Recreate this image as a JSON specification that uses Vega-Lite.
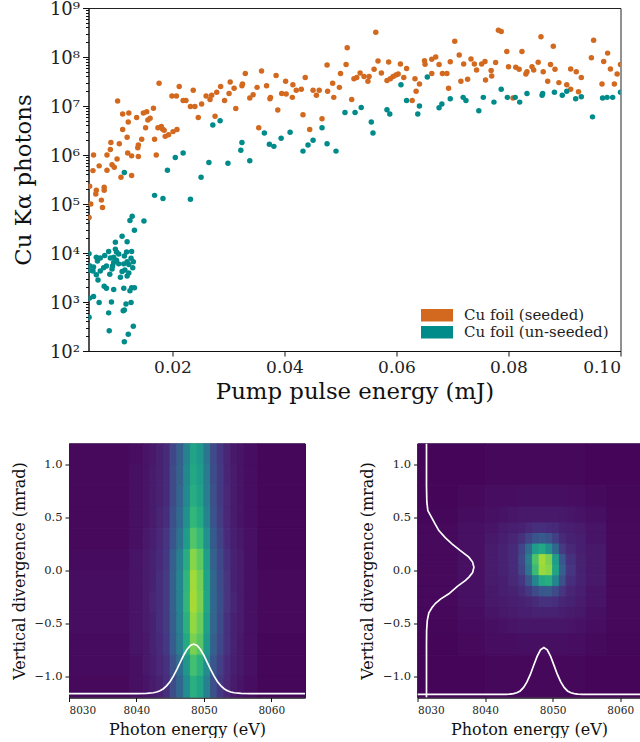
{"$schema":"https://vega.github.io/schema/vega-lite/v6.json","padding":{"left":10,"top":0,"right":0,"bottom":0},"background":"white","config":{"font":"DejaVu Serif","view":{"stroke":"#222"},"axis":{"grid":false,"domainColor":"#111","tickColor":"#111","labelColor":"#222","titleColor":"#111","labelFont":"DejaVu Serif","titleFont":"DejaVu Serif","titleFontWeight":"normal"}},"datasets":{"seeded":[{"x":0.0052,"y":230000},{"x":0.0059,"y":1000000},{"x":0.0058,"y":480000},{"x":0.0064,"y":190000},{"x":0.0063,"y":160000},{"x":0.0069,"y":600000},{"x":0.0073,"y":120000},{"x":0.0078,"y":220000},{"x":0.0078,"y":190000},{"x":0.0083,"y":1000000},{"x":0.0083,"y":490000},{"x":0.0089,"y":1300000},{"x":0.009,"y":1800000},{"x":0.0092,"y":630000},{"x":0.0096,"y":560000},{"x":0.0101,"y":830000},{"x":0.0102,"y":12600000},{"x":0.0105,"y":1700000},{"x":0.0108,"y":350000},{"x":0.0111,"y":6900000},{"x":0.0111,"y":3300000},{"x":0.0119,"y":2300000},{"x":0.012,"y":1100000},{"x":0.0122,"y":7200000},{"x":0.0121,"y":4700000},{"x":0.0127,"y":960000},{"x":0.0127,"y":380000},{"x":0.0136,"y":5800000},{"x":0.0138,"y":1400000},{"x":0.0139,"y":1600000},{"x":0.0139,"y":930000},{"x":0.0145,"y":2100000},{"x":0.0148,"y":7200000},{"x":0.0154,"y":7600000},{"x":0.0152,"y":3600000},{"x":0.0156,"y":5200000},{"x":0.016,"y":5600000},{"x":0.0166,"y":9000000},{"x":0.0168,"y":2100000},{"x":0.0171,"y":1000000},{"x":0.0176,"y":29000000},{"x":0.0174,"y":3600000},{"x":0.018,"y":3800000},{"x":0.0182,"y":3400000},{"x":0.0185,"y":3200000},{"x":0.0187,"y":2400000},{"x":0.0193,"y":2600000},{"x":0.0199,"y":16000000},{"x":0.0201,"y":3000000},{"x":0.0207,"y":16000000},{"x":0.0208,"y":3300000},{"x":0.0212,"y":25000000},{"x":0.0219,"y":13000000},{"x":0.0224,"y":13000000},{"x":0.0232,"y":9800000},{"x":0.0237,"y":21000000},{"x":0.024,"y":9800000},{"x":0.0246,"y":5800000},{"x":0.0252,"y":11000000},{"x":0.026,"y":16000000},{"x":0.0267,"y":13500000},{"x":0.027,"y":16500000},{"x":0.0276,"y":6200000},{"x":0.0279,"y":19000000},{"x":0.0286,"y":25000000},{"x":0.0293,"y":13000000},{"x":0.0301,"y":18000000},{"x":0.0303,"y":31000000},{"x":0.031,"y":23000000},{"x":0.0313,"y":8900000},{"x":0.0324,"y":26000000},{"x":0.0325,"y":28000000},{"x":0.033,"y":46000000},{"x":0.0338,"y":14500000},{"x":0.0344,"y":17000000},{"x":0.0351,"y":24000000},{"x":0.0354,"y":3600000},{"x":0.0359,"y":52000000},{"x":0.0368,"y":26000000},{"x":0.0374,"y":14000000},{"x":0.0375,"y":15000000},{"x":0.0385,"y":42000000},{"x":0.0388,"y":8300000},{"x":0.0395,"y":18000000},{"x":0.0402,"y":32000000},{"x":0.0403,"y":17500000},{"x":0.0414,"y":15000000},{"x":0.0415,"y":27000000},{"x":0.0421,"y":21000000},{"x":0.043,"y":22000000},{"x":0.0433,"y":6600000},{"x":0.0437,"y":38000000},{"x":0.0445,"y":3300000},{"x":0.0451,"y":21000000},{"x":0.0457,"y":16500000},{"x":0.0462,"y":21000000},{"x":0.0467,"y":5500000},{"x":0.0476,"y":69000000},{"x":0.0477,"y":20000000},{"x":0.0486,"y":29000000},{"x":0.0488,"y":15000000},{"x":0.0498,"y":24000000},{"x":0.05,"y":46000000},{"x":0.051,"y":70000000},{"x":0.0512,"y":155000000},{"x":0.052,"y":13500000},{"x":0.0524,"y":36000000},{"x":0.0529,"y":38000000},{"x":0.0535,"y":47000000},{"x":0.0542,"y":40000000},{"x":0.0551,"y":40000000},{"x":0.0549,"y":32000000},{"x":0.056,"y":56000000},{"x":0.0563,"y":320000000},{"x":0.0567,"y":83000000},{"x":0.0573,"y":47000000},{"x":0.0583,"y":33000000},{"x":0.0586,"y":79000000},{"x":0.0589,"y":36000000},{"x":0.0594,"y":40000000},{"x":0.0599,"y":43000000},{"x":0.0603,"y":45000000},{"x":0.0607,"y":72000000},{"x":0.0613,"y":38000000},{"x":0.0618,"y":58000000},{"x":0.0628,"y":13000000},{"x":0.0633,"y":36000000},{"x":0.0635,"y":20000000},{"x":0.0641,"y":28000000},{"x":0.065,"y":84000000},{"x":0.0651,"y":71000000},{"x":0.0663,"y":90000000},{"x":0.0663,"y":46000000},{"x":0.067,"y":100000000},{"x":0.0676,"y":70000000},{"x":0.0682,"y":46000000},{"x":0.069,"y":46000000},{"x":0.0693,"y":23000000},{"x":0.0696,"y":80000000},{"x":0.0704,"y":210000000},{"x":0.0712,"y":110000000},{"x":0.0715,"y":32000000},{"x":0.072,"y":72000000},{"x":0.0727,"y":35000000},{"x":0.0733,"y":91000000},{"x":0.0739,"y":72000000},{"x":0.0743,"y":54000000},{"x":0.0752,"y":72000000},{"x":0.0758,"y":81000000},{"x":0.0759,"y":34000000},{"x":0.0769,"y":53000000},{"x":0.077,"y":41000000},{"x":0.0777,"y":77000000},{"x":0.0782,"y":350000000},{"x":0.0787,"y":330000000},{"x":0.0797,"y":130000000},{"x":0.08,"y":63000000},{"x":0.0808,"y":14500000},{"x":0.0813,"y":62000000},{"x":0.0819,"y":56000000},{"x":0.0824,"y":130000000},{"x":0.0831,"y":45000000},{"x":0.0833,"y":50000000},{"x":0.0842,"y":63000000},{"x":0.0845,"y":54000000},{"x":0.0853,"y":78000000},{"x":0.0858,"y":260000000},{"x":0.0862,"y":50000000},{"x":0.087,"y":32000000},{"x":0.0875,"y":70000000},{"x":0.088,"y":165000000},{"x":0.0883,"y":56000000},{"x":0.089,"y":30000000},{"x":0.0904,"y":27000000},{"x":0.0911,"y":57000000},{"x":0.0911,"y":22000000},{"x":0.0921,"y":50000000},{"x":0.0925,"y":19500000},{"x":0.093,"y":38000000},{"x":0.0948,"y":97000000},{"x":0.0952,"y":220000000},{"x":0.0967,"y":28000000},{"x":0.097,"y":81000000},{"x":0.0977,"y":120000000},{"x":0.0982,"y":57000000},{"x":0.0989,"y":28000000},{"x":0.0994,"y":45000000},{"x":0.1,"y":70000000},{"x":0.0054,"y":100000},{"x":0.0075,"y":85000},{"x":0.0051,"y":53000}],"unseeded":[{"x":0.0114,"y":440000},{"x":0.0191,"y":490000},{"x":0.0205,"y":890000},{"x":0.0219,"y":1100000},{"x":0.0251,"y":350000},{"x":0.0265,"y":700000},{"x":0.0272,"y":4100000},{"x":0.0285,"y":5000000},{"x":0.0299,"y":680000},{"x":0.0322,"y":1250000},{"x":0.0324,"y":1800000},{"x":0.0338,"y":760000},{"x":0.0364,"y":2800000},{"x":0.0373,"y":1660000},{"x":0.0381,"y":1500000},{"x":0.0394,"y":2200000},{"x":0.041,"y":2900000},{"x":0.0433,"y":1200000},{"x":0.0442,"y":1600000},{"x":0.0451,"y":2000000},{"x":0.0467,"y":3600000},{"x":0.0476,"y":1700000},{"x":0.0168,"y":150000},{"x":0.0183,"y":130000},{"x":0.0232,"y":125000},{"x":0.0492,"y":1200000},{"x":0.0508,"y":7400000},{"x":0.0526,"y":7400000},{"x":0.0537,"y":9300000},{"x":0.0555,"y":4700000},{"x":0.0558,"y":2800000},{"x":0.0583,"y":8400000},{"x":0.0588,"y":6900000},{"x":0.0608,"y":27000000},{"x":0.0618,"y":13000000},{"x":0.0638,"y":6900000},{"x":0.0641,"y":10000000},{"x":0.0655,"y":39000000},{"x":0.0676,"y":9200000},{"x":0.0681,"y":11000000},{"x":0.0696,"y":14000000},{"x":0.0719,"y":15000000},{"x":0.0724,"y":13000000},{"x":0.0747,"y":8000000},{"x":0.0755,"y":15000000},{"x":0.0774,"y":12000000},{"x":0.0787,"y":22000000},{"x":0.0798,"y":15000000},{"x":0.0812,"y":15000000},{"x":0.082,"y":12000000},{"x":0.0833,"y":18000000},{"x":0.086,"y":16500000},{"x":0.0861,"y":18000000},{"x":0.0882,"y":19000000},{"x":0.0896,"y":16500000},{"x":0.0904,"y":20000000},{"x":0.092,"y":14000000},{"x":0.093,"y":15500000},{"x":0.095,"y":6000000},{"x":0.0968,"y":14500000},{"x":0.0976,"y":15000000},{"x":0.0986,"y":15000000},{"x":0.1,"y":19000000},{"x":0.0128,"y":56000},{"x":0.0124,"y":46000},{"x":0.0149,"y":45000},{"x":0.0132,"y":29000},{"x":0.011,"y":22000},{"x":0.0098,"y":16500},{"x":0.0119,"y":17000},{"x":0.0051,"y":9700},{"x":0.0064,"y":8200},{"x":0.0066,"y":6900},{"x":0.0079,"y":8900},{"x":0.0086,"y":10700},{"x":0.0098,"y":12000},{"x":0.01,"y":10500},{"x":0.0104,"y":9500},{"x":0.0095,"y":8200},{"x":0.0089,"y":7900},{"x":0.0071,"y":7900},{"x":0.0118,"y":10500},{"x":0.0127,"y":10700},{"x":0.0114,"y":8700},{"x":0.0126,"y":7800},{"x":0.013,"y":6600},{"x":0.0119,"y":6600},{"x":0.0113,"y":6000},{"x":0.0122,"y":5800},{"x":0.01,"y":7100},{"x":0.0095,"y":6400},{"x":0.0104,"y":6000},{"x":0.0093,"y":5400},{"x":0.0082,"y":5400},{"x":0.0077,"y":5000},{"x":0.0071,"y":4300},{"x":0.0052,"y":5500},{"x":0.0059,"y":5200},{"x":0.0058,"y":4300},{"x":0.0051,"y":4400},{"x":0.0064,"y":3600},{"x":0.0067,"y":2800},{"x":0.0088,"y":3700},{"x":0.0092,"y":4700},{"x":0.011,"y":4200},{"x":0.0115,"y":4500},{"x":0.0107,"y":3200},{"x":0.0119,"y":3400},{"x":0.0122,"y":3900},{"x":0.0129,"y":5000},{"x":0.0078,"y":2100},{"x":0.0082,"y":1900},{"x":0.0095,"y":1800},{"x":0.0113,"y":1900},{"x":0.0124,"y":1700},{"x":0.0127,"y":1950},{"x":0.0132,"y":1950},{"x":0.0059,"y":1300},{"x":0.0052,"y":1200},{"x":0.0069,"y":980},{"x":0.0091,"y":1000},{"x":0.0126,"y":980},{"x":0.0117,"y":910},{"x":0.0114,"y":690},{"x":0.0112,"y":660},{"x":0.0086,"y":600},{"x":0.0051,"y":490},{"x":0.0087,"y":260},{"x":0.013,"y":320},{"x":0.0121,"y":220},{"x":0.0114,"y":155}],"left":[{"a":8030,"b":8039,"c":1,"d":1.2,"v":0.02},{"a":8039,"b":8041,"c":1,"d":1.2,"v":0.03},{"a":8041,"b":8042,"c":1,"d":1.2,"v":0.05},{"a":8042,"b":8043,"c":1,"d":1.2,"v":0.06},{"a":8043,"b":8044,"c":1,"d":1.2,"v":0.09},{"a":8044,"b":8045,"c":1,"d":1.2,"v":0.12},{"a":8045,"b":8046,"c":1,"d":1.2,"v":0.21},{"a":8046,"b":8047,"c":1,"d":1.2,"v":0.3},{"a":8047,"b":8048,"c":1,"d":1.2,"v":0.44},{"a":8048,"b":8049,"c":1,"d":1.2,"v":0.58},{"a":8049,"b":8050,"c":1,"d":1.2,"v":0.53},{"a":8050,"b":8051,"c":1,"d":1.2,"v":0.39},{"a":8051,"b":8052,"c":1,"d":1.2,"v":0.22},{"a":8052,"b":8053,"c":1,"d":1.2,"v":0.15},{"a":8053,"b":8054,"c":1,"d":1.2,"v":0.1},{"a":8054,"b":8055,"c":1,"d":1.2,"v":0.06},{"a":8055,"b":8056,"c":1,"d":1.2,"v":0.05},{"a":8056,"b":8058,"c":1,"d":1.2,"v":0.03},{"a":8058,"b":8065,"c":1,"d":1.2,"v":0.015},{"a":8030,"b":8039,"c":0.8,"d":1,"v":0.02},{"a":8039,"b":8041,"c":0.8,"d":1,"v":0.04},{"a":8041,"b":8042,"c":0.8,"d":1,"v":0.05},{"a":8042,"b":8043,"c":0.8,"d":1,"v":0.07},{"a":8043,"b":8044,"c":0.8,"d":1,"v":0.09},{"a":8044,"b":8045,"c":0.8,"d":1,"v":0.12},{"a":8045,"b":8046,"c":0.8,"d":1,"v":0.22},{"a":8046,"b":8047,"c":0.8,"d":1,"v":0.31},{"a":8047,"b":8048,"c":0.8,"d":1,"v":0.46},{"a":8048,"b":8049,"c":0.8,"d":1,"v":0.6},{"a":8049,"b":8050,"c":0.8,"d":1,"v":0.55},{"a":8050,"b":8051,"c":0.8,"d":1,"v":0.41},{"a":8051,"b":8052,"c":0.8,"d":1,"v":0.23},{"a":8052,"b":8053,"c":0.8,"d":1,"v":0.16},{"a":8053,"b":8054,"c":0.8,"d":1,"v":0.1},{"a":8054,"b":8055,"c":0.8,"d":1,"v":0.07},{"a":8055,"b":8056,"c":0.8,"d":1,"v":0.05},{"a":8056,"b":8058,"c":0.8,"d":1,"v":0.03},{"a":8058,"b":8065,"c":0.8,"d":1,"v":0.015},{"a":8030,"b":8039,"c":0.6,"d":0.8,"v":0.02},{"a":8039,"b":8041,"c":0.6,"d":0.8,"v":0.04},{"a":8041,"b":8042,"c":0.6,"d":0.8,"v":0.05},{"a":8042,"b":8043,"c":0.6,"d":0.8,"v":0.07},{"a":8043,"b":8044,"c":0.6,"d":0.8,"v":0.09},{"a":8044,"b":8045,"c":0.6,"d":0.8,"v":0.12},{"a":8045,"b":8046,"c":0.6,"d":0.8,"v":0.22},{"a":8046,"b":8047,"c":0.6,"d":0.8,"v":0.32},{"a":8047,"b":8048,"c":0.6,"d":0.8,"v":0.47},{"a":8048,"b":8049,"c":0.6,"d":0.8,"v":0.62},{"a":8049,"b":8050,"c":0.6,"d":0.8,"v":0.57},{"a":8050,"b":8051,"c":0.6,"d":0.8,"v":0.42},{"a":8051,"b":8052,"c":0.6,"d":0.8,"v":0.24},{"a":8052,"b":8053,"c":0.6,"d":0.8,"v":0.16},{"a":8053,"b":8054,"c":0.6,"d":0.8,"v":0.11},{"a":8054,"b":8055,"c":0.6,"d":0.8,"v":0.07},{"a":8055,"b":8056,"c":0.6,"d":0.8,"v":0.05},{"a":8056,"b":8058,"c":0.6,"d":0.8,"v":0.03},{"a":8058,"b":8065,"c":0.6,"d":0.8,"v":0.015},{"a":8030,"b":8039,"c":0.4,"d":0.6,"v":0.02},{"a":8039,"b":8041,"c":0.4,"d":0.6,"v":0.04},{"a":8041,"b":8042,"c":0.4,"d":0.6,"v":0.05},{"a":8042,"b":8043,"c":0.4,"d":0.6,"v":0.07},{"a":8043,"b":8044,"c":0.4,"d":0.6,"v":0.1},{"a":8044,"b":8045,"c":0.4,"d":0.6,"v":0.13},{"a":8045,"b":8046,"c":0.4,"d":0.6,"v":0.24},{"a":8046,"b":8047,"c":0.4,"d":0.6,"v":0.34},{"a":8047,"b":8048,"c":0.4,"d":0.6,"v":0.5},{"a":8048,"b":8049,"c":0.4,"d":0.6,"v":0.66},{"a":8049,"b":8050,"c":0.4,"d":0.6,"v":0.61},{"a":8050,"b":8051,"c":0.4,"d":0.6,"v":0.45},{"a":8051,"b":8052,"c":0.4,"d":0.6,"v":0.25},{"a":8052,"b":8053,"c":0.4,"d":0.6,"v":0.17},{"a":8053,"b":8054,"c":0.4,"d":0.6,"v":0.11},{"a":8054,"b":8055,"c":0.4,"d":0.6,"v":0.07},{"a":8055,"b":8056,"c":0.4,"d":0.6,"v":0.05},{"a":8056,"b":8058,"c":0.4,"d":0.6,"v":0.03},{"a":8058,"b":8065,"c":0.4,"d":0.6,"v":0.015},{"a":8030,"b":8039,"c":0.2,"d":0.4,"v":0.02},{"a":8039,"b":8041,"c":0.2,"d":0.4,"v":0.04},{"a":8041,"b":8042,"c":0.2,"d":0.4,"v":0.06},{"a":8042,"b":8043,"c":0.2,"d":0.4,"v":0.08},{"a":8043,"b":8044,"c":0.2,"d":0.4,"v":0.11},{"a":8044,"b":8045,"c":0.2,"d":0.4,"v":0.15},{"a":8045,"b":8046,"c":0.2,"d":0.4,"v":0.26},{"a":8046,"b":8047,"c":0.2,"d":0.4,"v":0.38},{"a":8047,"b":8048,"c":0.2,"d":0.4,"v":0.55},{"a":8048,"b":8049,"c":0.2,"d":0.4,"v":0.73},{"a":8049,"b":8050,"c":0.2,"d":0.4,"v":0.67},{"a":8050,"b":8051,"c":0.2,"d":0.4,"v":0.5},{"a":8051,"b":8052,"c":0.2,"d":0.4,"v":0.28},{"a":8052,"b":8053,"c":0.2,"d":0.4,"v":0.19},{"a":8053,"b":8054,"c":0.2,"d":0.4,"v":0.12},{"a":8054,"b":8055,"c":0.2,"d":0.4,"v":0.08},{"a":8055,"b":8056,"c":0.2,"d":0.4,"v":0.06},{"a":8056,"b":8058,"c":0.2,"d":0.4,"v":0.04},{"a":8058,"b":8065,"c":0.2,"d":0.4,"v":0.015},{"a":8030,"b":8039,"c":0,"d":0.2,"v":0.025},{"a":8039,"b":8041,"c":0,"d":0.2,"v":0.05},{"a":8041,"b":8042,"c":0,"d":0.2,"v":0.07},{"a":8042,"b":8043,"c":0,"d":0.2,"v":0.09},{"a":8043,"b":8044,"c":0,"d":0.2,"v":0.12},{"a":8044,"b":8045,"c":0,"d":0.2,"v":0.16},{"a":8045,"b":8046,"c":0,"d":0.2,"v":0.3},{"a":8046,"b":8047,"c":0,"d":0.2,"v":0.43},{"a":8047,"b":8048,"c":0,"d":0.2,"v":0.62},{"a":8048,"b":8049,"c":0,"d":0.2,"v":0.82},{"a":8049,"b":8050,"c":0,"d":0.2,"v":0.75},{"a":8050,"b":8051,"c":0,"d":0.2,"v":0.56},{"a":8051,"b":8052,"c":0,"d":0.2,"v":0.31},{"a":8052,"b":8053,"c":0,"d":0.2,"v":0.21},{"a":8053,"b":8054,"c":0,"d":0.2,"v":0.14},{"a":8054,"b":8055,"c":0,"d":0.2,"v":0.09},{"a":8055,"b":8056,"c":0,"d":0.2,"v":0.07},{"a":8056,"b":8058,"c":0,"d":0.2,"v":0.04},{"a":8058,"b":8065,"c":0,"d":0.2,"v":0.015},{"a":8030,"b":8039,"c":-0.2,"d":0,"v":0.03},{"a":8039,"b":8041,"c":-0.2,"d":0,"v":0.05},{"a":8041,"b":8042,"c":-0.2,"d":0,"v":0.07},{"a":8042,"b":8043,"c":-0.2,"d":0,"v":0.09},{"a":8043,"b":8044,"c":-0.2,"d":0,"v":0.13},{"a":8044,"b":8045,"c":-0.2,"d":0,"v":0.17},{"a":8045,"b":8046,"c":-0.2,"d":0,"v":0.31},{"a":8046,"b":8047,"c":-0.2,"d":0,"v":0.45},{"a":8047,"b":8048,"c":-0.2,"d":0,"v":0.65},{"a":8048,"b":8049,"c":-0.2,"d":0,"v":0.86},{"a":8049,"b":8050,"c":-0.2,"d":0,"v":0.79},{"a":8050,"b":8051,"c":-0.2,"d":0,"v":0.58},{"a":8051,"b":8052,"c":-0.2,"d":0,"v":0.33},{"a":8052,"b":8053,"c":-0.2,"d":0,"v":0.22},{"a":8053,"b":8054,"c":-0.2,"d":0,"v":0.15},{"a":8054,"b":8055,"c":-0.2,"d":0,"v":0.09},{"a":8055,"b":8056,"c":-0.2,"d":0,"v":0.07},{"a":8056,"b":8058,"c":-0.2,"d":0,"v":0.04},{"a":8058,"b":8065,"c":-0.2,"d":0,"v":0.02},{"a":8030,"b":8039,"c":-0.4,"d":-0.2,"v":0.03},{"a":8039,"b":8041,"c":-0.4,"d":-0.2,"v":0.05},{"a":8041,"b":8042,"c":-0.4,"d":-0.2,"v":0.07},{"a":8042,"b":8043,"c":-0.4,"d":-0.2,"v":0.1},{"a":8043,"b":8044,"c":-0.4,"d":-0.2,"v":0.13},{"a":8044,"b":8045,"c":-0.4,"d":-0.2,"v":0.17},{"a":8045,"b":8046,"c":-0.4,"d":-0.2,"v":0.31},{"a":8046,"b":8047,"c":-0.4,"d":-0.2,"v":0.45},{"a":8047,"b":8048,"c":-0.4,"d":-0.2,"v":0.66},{"a":8048,"b":8049,"c":-0.4,"d":-0.2,"v":0.87},{"a":8049,"b":8050,"c":-0.4,"d":-0.2,"v":0.8},{"a":8050,"b":8051,"c":-0.4,"d":-0.2,"v":0.59},{"a":8051,"b":8052,"c":-0.4,"d":-0.2,"v":0.33},{"a":8052,"b":8053,"c":-0.4,"d":-0.2,"v":0.23},{"a":8053,"b":8054,"c":-0.4,"d":-0.2,"v":0.15},{"a":8054,"b":8055,"c":-0.4,"d":-0.2,"v":0.1},{"a":8055,"b":8056,"c":-0.4,"d":-0.2,"v":0.07},{"a":8056,"b":8058,"c":-0.4,"d":-0.2,"v":0.04},{"a":8058,"b":8065,"c":-0.4,"d":-0.2,"v":0.02},{"a":8030,"b":8039,"c":-0.6,"d":-0.4,"v":0.03},{"a":8039,"b":8041,"c":-0.6,"d":-0.4,"v":0.05},{"a":8041,"b":8042,"c":-0.6,"d":-0.4,"v":0.07},{"a":8042,"b":8043,"c":-0.6,"d":-0.4,"v":0.09},{"a":8043,"b":8044,"c":-0.6,"d":-0.4,"v":0.13},{"a":8044,"b":8045,"c":-0.6,"d":-0.4,"v":0.17},{"a":8045,"b":8046,"c":-0.6,"d":-0.4,"v":0.3},{"a":8046,"b":8047,"c":-0.6,"d":-0.4,"v":0.44},{"a":8047,"b":8048,"c":-0.6,"d":-0.4,"v":0.64},{"a":8048,"b":8049,"c":-0.6,"d":-0.4,"v":0.84},{"a":8049,"b":8050,"c":-0.6,"d":-0.4,"v":0.77},{"a":8050,"b":8051,"c":-0.6,"d":-0.4,"v":0.57},{"a":8051,"b":8052,"c":-0.6,"d":-0.4,"v":0.32},{"a":8052,"b":8053,"c":-0.6,"d":-0.4,"v":0.22},{"a":8053,"b":8054,"c":-0.6,"d":-0.4,"v":0.14},{"a":8054,"b":8055,"c":-0.6,"d":-0.4,"v":0.09},{"a":8055,"b":8056,"c":-0.6,"d":-0.4,"v":0.07},{"a":8056,"b":8058,"c":-0.6,"d":-0.4,"v":0.04},{"a":8058,"b":8065,"c":-0.6,"d":-0.4,"v":0.02},{"a":8030,"b":8039,"c":-0.8,"d":-0.6,"v":0.025},{"a":8039,"b":8041,"c":-0.8,"d":-0.6,"v":0.05},{"a":8041,"b":8042,"c":-0.8,"d":-0.6,"v":0.06},{"a":8042,"b":8043,"c":-0.8,"d":-0.6,"v":0.09},{"a":8043,"b":8044,"c":-0.8,"d":-0.6,"v":0.12},{"a":8044,"b":8045,"c":-0.8,"d":-0.6,"v":0.16},{"a":8045,"b":8046,"c":-0.8,"d":-0.6,"v":0.29},{"a":8046,"b":8047,"c":-0.8,"d":-0.6,"v":0.42},{"a":8047,"b":8048,"c":-0.8,"d":-0.6,"v":0.61},{"a":8048,"b":8049,"c":-0.8,"d":-0.6,"v":0.8},{"a":8049,"b":8050,"c":-0.8,"d":-0.6,"v":0.74},{"a":8050,"b":8051,"c":-0.8,"d":-0.6,"v":0.54},{"a":8051,"b":8052,"c":-0.8,"d":-0.6,"v":0.3},{"a":8052,"b":8053,"c":-0.8,"d":-0.6,"v":0.21},{"a":8053,"b":8054,"c":-0.8,"d":-0.6,"v":0.14},{"a":8054,"b":8055,"c":-0.8,"d":-0.6,"v":0.09},{"a":8055,"b":8056,"c":-0.8,"d":-0.6,"v":0.06},{"a":8056,"b":8058,"c":-0.8,"d":-0.6,"v":0.04},{"a":8058,"b":8065,"c":-0.8,"d":-0.6,"v":0.015},{"a":8030,"b":8039,"c":-1,"d":-0.8,"v":0.025},{"a":8039,"b":8041,"c":-1,"d":-0.8,"v":0.04},{"a":8041,"b":8042,"c":-1,"d":-0.8,"v":0.06},{"a":8042,"b":8043,"c":-1,"d":-0.8,"v":0.08},{"a":8043,"b":8044,"c":-1,"d":-0.8,"v":0.11},{"a":8044,"b":8045,"c":-1,"d":-0.8,"v":0.14},{"a":8045,"b":8046,"c":-1,"d":-0.8,"v":0.25},{"a":8046,"b":8047,"c":-1,"d":-0.8,"v":0.36},{"a":8047,"b":8048,"c":-1,"d":-0.8,"v":0.53},{"a":8048,"b":8049,"c":-1,"d":-0.8,"v":0.7},{"a":8049,"b":8050,"c":-1,"d":-0.8,"v":0.64},{"a":8050,"b":8051,"c":-1,"d":-0.8,"v":0.48},{"a":8051,"b":8052,"c":-1,"d":-0.8,"v":0.27},{"a":8052,"b":8053,"c":-1,"d":-0.8,"v":0.18},{"a":8053,"b":8054,"c":-1,"d":-0.8,"v":0.12},{"a":8054,"b":8055,"c":-1,"d":-0.8,"v":0.08},{"a":8055,"b":8056,"c":-1,"d":-0.8,"v":0.06},{"a":8056,"b":8058,"c":-1,"d":-0.8,"v":0.04},{"a":8058,"b":8065,"c":-1,"d":-0.8,"v":0.015},{"a":8030,"b":8039,"c":-1.2,"d":-1,"v":0.02},{"a":8039,"b":8041,"c":-1.2,"d":-1,"v":0.04},{"a":8041,"b":8042,"c":-1.2,"d":-1,"v":0.05},{"a":8042,"b":8043,"c":-1.2,"d":-1,"v":0.07},{"a":8043,"b":8044,"c":-1.2,"d":-1,"v":0.09},{"a":8044,"b":8045,"c":-1.2,"d":-1,"v":0.13},{"a":8045,"b":8046,"c":-1.2,"d":-1,"v":0.23},{"a":8046,"b":8047,"c":-1.2,"d":-1,"v":0.33},{"a":8047,"b":8048,"c":-1.2,"d":-1,"v":0.48},{"a":8048,"b":8049,"c":-1.2,"d":-1,"v":0.63},{"a":8049,"b":8050,"c":-1.2,"d":-1,"v":0.58},{"a":8050,"b":8051,"c":-1.2,"d":-1,"v":0.43},{"a":8051,"b":8052,"c":-1.2,"d":-1,"v":0.24},{"a":8052,"b":8053,"c":-1.2,"d":-1,"v":0.16},{"a":8053,"b":8054,"c":-1.2,"d":-1,"v":0.11},{"a":8054,"b":8055,"c":-1.2,"d":-1,"v":0.07},{"a":8055,"b":8056,"c":-1.2,"d":-1,"v":0.05},{"a":8056,"b":8058,"c":-1.2,"d":-1,"v":0.03},{"a":8058,"b":8065,"c":-1.2,"d":-1,"v":0.015}],"right":[{"a":8030,"b":8040,"c":0.8,"d":1.2,"v":0.012},{"a":8040,"b":8055,"c":0.8,"d":1.2,"v":0.018},{"a":8055,"b":8063,"c":0.8,"d":1.2,"v":0.013},{"a":8030,"b":8036,"c":0.6,"d":0.8,"v":0.013},{"a":8036,"b":8040,"c":0.6,"d":0.8,"v":0.02},{"a":8040,"b":8045,"c":0.6,"d":0.8,"v":0.03},{"a":8045,"b":8052,"c":0.6,"d":0.8,"v":0.037},{"a":8052,"b":8055,"c":0.6,"d":0.8,"v":0.03},{"a":8055,"b":8058,"c":0.6,"d":0.8,"v":0.023},{"a":8058,"b":8063,"c":0.6,"d":0.8,"v":0.015},{"a":8030,"b":8036,"c":0.45,"d":0.6,"v":0.015},{"a":8036,"b":8040,"c":0.45,"d":0.6,"v":0.027},{"a":8040,"b":8042,"c":0.45,"d":0.6,"v":0.04},{"a":8042,"b":8043.5,"c":0.45,"d":0.6,"v":0.047},{"a":8043.5,"b":8045,"c":0.45,"d":0.6,"v":0.055},{"a":8045,"b":8046,"c":0.45,"d":0.6,"v":0.06},{"a":8046,"b":8051,"c":0.45,"d":0.6,"v":0.065},{"a":8051,"b":8052,"c":0.45,"d":0.6,"v":0.06},{"a":8052,"b":8053.5,"c":0.45,"d":0.6,"v":0.055},{"a":8053.5,"b":8055,"c":0.45,"d":0.6,"v":0.047},{"a":8055,"b":8058,"c":0.45,"d":0.6,"v":0.035},{"a":8058,"b":8063,"c":0.45,"d":0.6,"v":0.018},{"a":8030,"b":8036,"c":0.35,"d":0.45,"v":0.02},{"a":8036,"b":8040,"c":0.35,"d":0.45,"v":0.04},{"a":8040,"b":8042,"c":0.35,"d":0.45,"v":0.05},{"a":8042,"b":8043.5,"c":0.35,"d":0.45,"v":0.07},{"a":8043.5,"b":8045,"c":0.35,"d":0.45,"v":0.08},{"a":8045,"b":8046,"c":0.35,"d":0.45,"v":0.09},{"a":8046,"b":8047,"c":0.35,"d":0.45,"v":0.11},{"a":8047,"b":8048,"c":0.35,"d":0.45,"v":0.13},{"a":8048,"b":8049,"c":0.35,"d":0.45,"v":0.13},{"a":8049,"b":8050,"c":0.35,"d":0.45,"v":0.12},{"a":8050,"b":8051,"c":0.35,"d":0.45,"v":0.11},{"a":8051,"b":8052,"c":0.35,"d":0.45,"v":0.09},{"a":8052,"b":8053.5,"c":0.35,"d":0.45,"v":0.08},{"a":8053.5,"b":8055,"c":0.35,"d":0.45,"v":0.07},{"a":8055,"b":8058,"c":0.35,"d":0.45,"v":0.05},{"a":8058,"b":8063,"c":0.35,"d":0.45,"v":0.02},{"a":8030,"b":8036,"c":0.25,"d":0.35,"v":0.02},{"a":8036,"b":8040,"c":0.25,"d":0.35,"v":0.04},{"a":8040,"b":8042,"c":0.25,"d":0.35,"v":0.06},{"a":8042,"b":8043.5,"c":0.25,"d":0.35,"v":0.08},{"a":8043.5,"b":8045,"c":0.25,"d":0.35,"v":0.1},{"a":8045,"b":8046,"c":0.25,"d":0.35,"v":0.14},{"a":8046,"b":8047,"c":0.25,"d":0.35,"v":0.2},{"a":8047,"b":8048,"c":0.25,"d":0.35,"v":0.26},{"a":8048,"b":8049,"c":0.25,"d":0.35,"v":0.28},{"a":8049,"b":8050,"c":0.25,"d":0.35,"v":0.25},{"a":8050,"b":8051,"c":0.25,"d":0.35,"v":0.18},{"a":8051,"b":8052,"c":0.25,"d":0.35,"v":0.12},{"a":8052,"b":8053.5,"c":0.25,"d":0.35,"v":0.09},{"a":8053.5,"b":8055,"c":0.25,"d":0.35,"v":0.08},{"a":8055,"b":8058,"c":0.25,"d":0.35,"v":0.05},{"a":8058,"b":8063,"c":0.25,"d":0.35,"v":0.02},{"a":8030,"b":8036,"c":0.15,"d":0.25,"v":0.02},{"a":8036,"b":8040,"c":0.15,"d":0.25,"v":0.04},{"a":8040,"b":8042,"c":0.15,"d":0.25,"v":0.07},{"a":8042,"b":8043.5,"c":0.15,"d":0.25,"v":0.09},{"a":8043.5,"b":8045,"c":0.15,"d":0.25,"v":0.12},{"a":8045,"b":8046,"c":0.15,"d":0.25,"v":0.2},{"a":8046,"b":8047,"c":0.15,"d":0.25,"v":0.35},{"a":8047,"b":8048,"c":0.15,"d":0.25,"v":0.55},{"a":8048,"b":8049,"c":0.15,"d":0.25,"v":0.6},{"a":8049,"b":8050,"c":0.15,"d":0.25,"v":0.5},{"a":8050,"b":8051,"c":0.15,"d":0.25,"v":0.33},{"a":8051,"b":8052,"c":0.15,"d":0.25,"v":0.17},{"a":8052,"b":8053.5,"c":0.15,"d":0.25,"v":0.11},{"a":8053.5,"b":8055,"c":0.15,"d":0.25,"v":0.08},{"a":8055,"b":8058,"c":0.15,"d":0.25,"v":0.06},{"a":8058,"b":8063,"c":0.15,"d":0.25,"v":0.02},{"a":8030,"b":8036,"c":0.05,"d":0.15,"v":0.02},{"a":8036,"b":8040,"c":0.05,"d":0.15,"v":0.04},{"a":8040,"b":8042,"c":0.05,"d":0.15,"v":0.07},{"a":8042,"b":8043.5,"c":0.05,"d":0.15,"v":0.09},{"a":8043.5,"b":8045,"c":0.05,"d":0.15,"v":0.12},{"a":8045,"b":8046,"c":0.05,"d":0.15,"v":0.22},{"a":8046,"b":8047,"c":0.05,"d":0.15,"v":0.42},{"a":8047,"b":8048,"c":0.05,"d":0.15,"v":0.72},{"a":8048,"b":8049,"c":0.05,"d":0.15,"v":0.86},{"a":8049,"b":8050,"c":0.05,"d":0.15,"v":0.8},{"a":8050,"b":8051,"c":0.05,"d":0.15,"v":0.55},{"a":8051,"b":8052,"c":0.05,"d":0.15,"v":0.27},{"a":8052,"b":8053.5,"c":0.05,"d":0.15,"v":0.14},{"a":8053.5,"b":8055,"c":0.05,"d":0.15,"v":0.09},{"a":8055,"b":8058,"c":0.05,"d":0.15,"v":0.06},{"a":8058,"b":8063,"c":0.05,"d":0.15,"v":0.02},{"a":8030,"b":8036,"c":-0.05,"d":0.05,"v":0.02},{"a":8036,"b":8040,"c":-0.05,"d":0.05,"v":0.04},{"a":8040,"b":8042,"c":-0.05,"d":0.05,"v":0.07},{"a":8042,"b":8043.5,"c":-0.05,"d":0.05,"v":0.09},{"a":8043.5,"b":8045,"c":-0.05,"d":0.05,"v":0.12},{"a":8045,"b":8046,"c":-0.05,"d":0.05,"v":0.2},{"a":8046,"b":8047,"c":-0.05,"d":0.05,"v":0.38},{"a":8047,"b":8048,"c":-0.05,"d":0.05,"v":0.68},{"a":8048,"b":8049,"c":-0.05,"d":0.05,"v":0.85},{"a":8049,"b":8050,"c":-0.05,"d":0.05,"v":0.82},{"a":8050,"b":8051,"c":-0.05,"d":0.05,"v":0.58},{"a":8051,"b":8052,"c":-0.05,"d":0.05,"v":0.3},{"a":8052,"b":8053.5,"c":-0.05,"d":0.05,"v":0.15},{"a":8053.5,"b":8055,"c":-0.05,"d":0.05,"v":0.09},{"a":8055,"b":8058,"c":-0.05,"d":0.05,"v":0.06},{"a":8058,"b":8063,"c":-0.05,"d":0.05,"v":0.02},{"a":8030,"b":8036,"c":-0.15,"d":-0.05,"v":0.02},{"a":8036,"b":8040,"c":-0.15,"d":-0.05,"v":0.04},{"a":8040,"b":8042,"c":-0.15,"d":-0.05,"v":0.07},{"a":8042,"b":8043.5,"c":-0.15,"d":-0.05,"v":0.08},{"a":8043.5,"b":8045,"c":-0.15,"d":-0.05,"v":0.11},{"a":8045,"b":8046,"c":-0.15,"d":-0.05,"v":0.15},{"a":8046,"b":8047,"c":-0.15,"d":-0.05,"v":0.27},{"a":8047,"b":8048,"c":-0.15,"d":-0.05,"v":0.45},{"a":8048,"b":8049,"c":-0.15,"d":-0.05,"v":0.6},{"a":8049,"b":8050,"c":-0.15,"d":-0.05,"v":0.62},{"a":8050,"b":8051,"c":-0.15,"d":-0.05,"v":0.45},{"a":8051,"b":8052,"c":-0.15,"d":-0.05,"v":0.24},{"a":8052,"b":8053.5,"c":-0.15,"d":-0.05,"v":0.13},{"a":8053.5,"b":8055,"c":-0.15,"d":-0.05,"v":0.09},{"a":8055,"b":8058,"c":-0.15,"d":-0.05,"v":0.06},{"a":8058,"b":8063,"c":-0.15,"d":-0.05,"v":0.02},{"a":8030,"b":8036,"c":-0.25,"d":-0.15,"v":0.02},{"a":8036,"b":8040,"c":-0.25,"d":-0.15,"v":0.04},{"a":8040,"b":8042,"c":-0.25,"d":-0.15,"v":0.06},{"a":8042,"b":8043.5,"c":-0.25,"d":-0.15,"v":0.08},{"a":8043.5,"b":8045,"c":-0.25,"d":-0.15,"v":0.09},{"a":8045,"b":8046,"c":-0.25,"d":-0.15,"v":0.12},{"a":8046,"b":8047,"c":-0.25,"d":-0.15,"v":0.16},{"a":8047,"b":8048,"c":-0.25,"d":-0.15,"v":0.22},{"a":8048,"b":8049,"c":-0.25,"d":-0.15,"v":0.27},{"a":8049,"b":8050,"c":-0.25,"d":-0.15,"v":0.28},{"a":8050,"b":8051,"c":-0.25,"d":-0.15,"v":0.22},{"a":8051,"b":8052,"c":-0.25,"d":-0.15,"v":0.15},{"a":8052,"b":8053.5,"c":-0.25,"d":-0.15,"v":0.1},{"a":8053.5,"b":8055,"c":-0.25,"d":-0.15,"v":0.08},{"a":8055,"b":8058,"c":-0.25,"d":-0.15,"v":0.05},{"a":8058,"b":8063,"c":-0.25,"d":-0.15,"v":0.02},{"a":8030,"b":8036,"c":-0.35,"d":-0.25,"v":0.02},{"a":8036,"b":8040,"c":-0.35,"d":-0.25,"v":0.04},{"a":8040,"b":8042,"c":-0.35,"d":-0.25,"v":0.06},{"a":8042,"b":8043.5,"c":-0.35,"d":-0.25,"v":0.07},{"a":8043.5,"b":8045,"c":-0.35,"d":-0.25,"v":0.08},{"a":8045,"b":8046,"c":-0.35,"d":-0.25,"v":0.09},{"a":8046,"b":8047,"c":-0.35,"d":-0.25,"v":0.1},{"a":8047,"b":8048,"c":-0.35,"d":-0.25,"v":0.12},{"a":8048,"b":8050,"c":-0.35,"d":-0.25,"v":0.14},{"a":8050,"b":8051,"c":-0.35,"d":-0.25,"v":0.13},{"a":8051,"b":8052,"c":-0.35,"d":-0.25,"v":0.1},{"a":8052,"b":8053.5,"c":-0.35,"d":-0.25,"v":0.09},{"a":8053.5,"b":8055,"c":-0.35,"d":-0.25,"v":0.07},{"a":8055,"b":8058,"c":-0.35,"d":-0.25,"v":0.05},{"a":8058,"b":8063,"c":-0.35,"d":-0.25,"v":0.02},{"a":8030,"b":8036,"c":-0.45,"d":-0.35,"v":0.018},{"a":8036,"b":8040,"c":-0.45,"d":-0.35,"v":0.03},{"a":8040,"b":8042,"c":-0.45,"d":-0.35,"v":0.05},{"a":8042,"b":8043.5,"c":-0.45,"d":-0.35,"v":0.06},{"a":8043.5,"b":8045,"c":-0.45,"d":-0.35,"v":0.07},{"a":8045,"b":8047,"c":-0.45,"d":-0.35,"v":0.08},{"a":8047,"b":8051,"c":-0.45,"d":-0.35,"v":0.09},{"a":8051,"b":8052,"c":-0.45,"d":-0.35,"v":0.08},{"a":8052,"b":8053.5,"c":-0.45,"d":-0.35,"v":0.07},{"a":8053.5,"b":8055,"c":-0.45,"d":-0.35,"v":0.06},{"a":8055,"b":8058,"c":-0.45,"d":-0.35,"v":0.04},{"a":8058,"b":8063,"c":-0.45,"d":-0.35,"v":0.02},{"a":8030,"b":8036,"c":-0.6,"d":-0.45,"v":0.015},{"a":8036,"b":8040,"c":-0.6,"d":-0.45,"v":0.026},{"a":8040,"b":8042,"c":-0.6,"d":-0.45,"v":0.037},{"a":8042,"b":8043.5,"c":-0.6,"d":-0.45,"v":0.044},{"a":8043.5,"b":8045,"c":-0.6,"d":-0.45,"v":0.05},{"a":8045,"b":8052,"c":-0.6,"d":-0.45,"v":0.056},{"a":8052,"b":8053.5,"c":-0.6,"d":-0.45,"v":0.05},{"a":8053.5,"b":8055,"c":-0.6,"d":-0.45,"v":0.044},{"a":8055,"b":8058,"c":-0.6,"d":-0.45,"v":0.032},{"a":8058,"b":8063,"c":-0.6,"d":-0.45,"v":0.017},{"a":8030,"b":8036,"c":-0.8,"d":-0.6,"v":0.013},{"a":8036,"b":8040,"c":-0.8,"d":-0.6,"v":0.02},{"a":8040,"b":8045,"c":-0.8,"d":-0.6,"v":0.03},{"a":8045,"b":8052,"c":-0.8,"d":-0.6,"v":0.037},{"a":8052,"b":8055,"c":-0.8,"d":-0.6,"v":0.03},{"a":8055,"b":8058,"c":-0.8,"d":-0.6,"v":0.023},{"a":8058,"b":8063,"c":-0.8,"d":-0.6,"v":0.015},{"a":8030,"b":8040,"c":-1.2,"d":-0.8,"v":0.012},{"a":8040,"b":8055,"c":-1.2,"d":-0.8,"v":0.018},{"a":8055,"b":8063,"c":-1.2,"d":-0.8,"v":0.013}],"lineL":[{"x":8030,"y":-1.163},{"x":8040,"y":-1.163},{"x":8041.5,"y":-1.161},{"x":8042.5,"y":-1.155},{"x":8043,"y":-1.148},{"x":8043.5,"y":-1.136},{"x":8044,"y":-1.117},{"x":8044.5,"y":-1.088},{"x":8045,"y":-1.048},{"x":8045.5,"y":-0.996},{"x":8046,"y":-0.934},{"x":8046.5,"y":-0.867},{"x":8047,"y":-0.801},{"x":8047.5,"y":-0.746},{"x":8048,"y":-0.708},{"x":8048.5,"y":-0.695},{"x":8049,"y":-0.708},{"x":8049.5,"y":-0.746},{"x":8050,"y":-0.801},{"x":8050.5,"y":-0.867},{"x":8051,"y":-0.934},{"x":8051.5,"y":-0.996},{"x":8052,"y":-1.048},{"x":8052.5,"y":-1.088},{"x":8053,"y":-1.117},{"x":8053.5,"y":-1.136},{"x":8054,"y":-1.148},{"x":8054.5,"y":-1.155},{"x":8055.5,"y":-1.161},{"x":8057,"y":-1.163},{"x":8065,"y":-1.163}],"lineR":[{"x":8030,"y":-1.17},{"x":8043,"y":-1.17},{"x":8043.7,"y":-1.168},{"x":8044.2,"y":-1.164},{"x":8044.7,"y":-1.155},{"x":8045.2,"y":-1.138},{"x":8045.7,"y":-1.105},{"x":8046.2,"y":-1.053},{"x":8046.7,"y":-0.982},{"x":8047.2,"y":-0.896},{"x":8047.7,"y":-0.812},{"x":8048.2,"y":-0.75},{"x":8048.7,"y":-0.727},{"x":8049.2,"y":-0.75},{"x":8049.7,"y":-0.812},{"x":8050.2,"y":-0.896},{"x":8050.7,"y":-0.982},{"x":8051.2,"y":-1.053},{"x":8051.7,"y":-1.105},{"x":8052.2,"y":-1.138},{"x":8052.7,"y":-1.155},{"x":8053.2,"y":-1.164},{"x":8053.7,"y":-1.168},{"x":8054.5,"y":-1.17},{"x":8063,"y":-1.17}],"lineV":[{"x":8031.33,"y":-1.2},{"x":8031.33,"y":-0.7},{"x":8031.35,"y":-0.566},{"x":8031.45,"y":-0.47},{"x":8031.68,"y":-0.4},{"x":8032.15,"y":-0.35},{"x":8032.67,"y":-0.31},{"x":8033.4,"y":-0.27},{"x":8034.64,"y":-0.22},{"x":8035.9,"y":-0.15},{"x":8037.11,"y":-0.094},{"x":8037.65,"y":-0.06},{"x":8038.15,"y":-0.02},{"x":8038.35,"y":0.03},{"x":8038.15,"y":0.08},{"x":8037.6,"y":0.126},{"x":8036.3,"y":0.19},{"x":8035.14,"y":0.25},{"x":8034.1,"y":0.31},{"x":8033.16,"y":0.377},{"x":8032.6,"y":0.44},{"x":8032.1,"y":0.5},{"x":8031.53,"y":0.566},{"x":8031.38,"y":0.65},{"x":8031.33,"y":0.8},{"x":8031.33,"y":1.2}]},"vconcat":[{"bounds":"flush","spacing":18.5,"hconcat":[{"width":1,"height":343,"view":{"stroke":null},"data":{"values":[]},"mark":"point"},{"width":532,"height":343,"layer":[{"data":{"name":"seeded"},"mark":{"type":"circle","size":30,"opacity":1,"clip":true},"encoding":{"x":{"field":"x","type":"quantitative","scale":{"domain":[0.005,0.1],"nice":false,"zero":false},"axis":{"values":[0.02,0.04,0.06,0.08,0.1],"format":".2f","title":"Pump pulse energy (mJ)","labelFontSize":17,"titleFontSize":22.8,"tickSize":5,"labelPadding":3,"titlePadding":5}},"y":{"field":"y","type":"quantitative","scale":{"type":"log","domain":[100,1000000000],"nice":false},"axis":{"values":[100,200,300,400,500,600,700,800,900,1000,2000,3000,4000,5000,6000,7000,8000,9000,10000,20000,30000,40000,50000,60000,70000,80000,90000,100000,200000,300000,400000,500000,600000,700000,800000,900000,1000000,2000000,3000000,4000000,5000000,6000000,7000000,8000000,9000000,10000000,20000000,30000000,40000000,50000000,60000000,70000000,80000000,90000000,100000000,200000000,300000000,400000000,500000000,600000000,700000000,800000000,900000000,1000000000],"labelExpr":"abs(log(datum.value)/LN10-round(log(datum.value)/LN10))<0.001?'10'+['','¹','²','³','⁴','⁵','⁶','⁷','⁸','⁹'][round(log(datum.value)/LN10)]:''","title":"Cu Kα photons","labelFontSize":18,"labelOffset":1.5,"titleFontSize":22.8,"tickSize":{"condition":{"test":"abs(log(datum.value)/LN10-round(log(datum.value)/LN10))<0.001","value":6},"value":3},"labelPadding":3,"titlePadding":14,"labelOverlap":false}},"color":{"datum":"Cu foil (seeded)","type":"nominal","scale":{"domain":["Cu foil (seeded)","Cu foil (un-seeded)"],"range":["#D2691E","#008B8B"]},"legend":{"orient":"none","legendX":352,"legendY":299,"title":null,"labelFont":"DejaVu Serif","labelFontSize":15,"labelColor":"#222","symbolType":"M-1,-0.39H1V0.39H-1Z","symbolSize":1024,"symbolOpacity":1,"symbolStrokeWidth":0,"clipHeight":16.5,"rowPadding":0,"labelOffset":11}}}},{"data":{"name":"unseeded"},"mark":{"type":"circle","size":30,"opacity":1,"clip":true},"encoding":{"x":{"field":"x","type":"quantitative"},"y":{"field":"y","type":"quantitative"},"color":{"datum":"Cu foil (un-seeded)","type":"nominal"}}}]}]},{"bounds":"flush","spacing":112.5,"hconcat":[{"width":236,"height":254,"layer":[{"data":{"name":"left"},"mark":{"type":"rect","strokeWidth":1,"clip":true},"encoding":{"x":{"field":"a","type":"quantitative","scale":{"domain":[8030,8065],"nice":false,"zero":false},"axis":{"values":[8030,8040,8050,8060],"format":"d","title":"Photon energy (eV)","labelFontSize":10.5,"titleFontSize":16,"tickSize":4,"labelPadding":4,"titlePadding":5}},"x2":{"field":"b"},"y":{"field":"c","type":"quantitative","scale":{"domain":[-1.2,1.2],"nice":false,"zero":false},"axis":{"values":[-1,-0.5,0,0.5,1],"format":".1f","title":"Vertical divergence (mrad)","labelFontSize":11.5,"titleFontSize":16,"tickSize":4,"labelPadding":3,"titlePadding":7}},"y2":{"field":"d"},"color":{"field":"v","type":"quantitative","scale":{"scheme":"viridis","domain":[0,1]},"legend":null},"stroke":{"field":"v","type":"quantitative","scale":{"scheme":"viridis","domain":[0,1]},"legend":null}}},{"data":{"name":"lineL"},"mark":{"type":"line","color":"white","strokeWidth":1.7,"clip":true},"encoding":{"x":{"field":"x","type":"quantitative"},"y":{"field":"y","type":"quantitative"}}}]},{"width":223,"height":254,"layer":[{"data":{"name":"right"},"mark":{"type":"rect","strokeWidth":1,"clip":true},"encoding":{"x":{"field":"a","type":"quantitative","scale":{"domain":[8030,8063],"nice":false,"zero":false},"axis":{"values":[8030,8040,8050,8060],"format":"d","title":"Photon energy (eV)","labelFontSize":10.5,"titleFontSize":16,"tickSize":4,"labelPadding":4,"titlePadding":5}},"x2":{"field":"b"},"y":{"field":"c","type":"quantitative","scale":{"domain":[-1.2,1.2],"nice":false,"zero":false},"axis":{"values":[-1,-0.5,0,0.5,1],"format":".1f","title":"Vertical divergence (mrad)","labelFontSize":11.5,"titleFontSize":16,"tickSize":4,"labelPadding":3,"titlePadding":7}},"y2":{"field":"d"},"color":{"field":"v","type":"quantitative","scale":{"scheme":"viridis","domain":[0,1]},"legend":null},"stroke":{"field":"v","type":"quantitative","scale":{"scheme":"viridis","domain":[0,1]},"legend":null}}},{"data":{"name":"lineR"},"mark":{"type":"line","color":"white","strokeWidth":1.7,"clip":true},"encoding":{"x":{"field":"x","type":"quantitative"},"y":{"field":"y","type":"quantitative"}}},{"data":{"name":"lineV"},"mark":{"type":"line","color":"white","strokeWidth":1.7,"clip":true},"encoding":{"x":{"field":"x","type":"quantitative"},"y":{"field":"y","type":"quantitative"},"order":{"field":"y"}}}]}],"resolve":{"scale":{"color":"independent","stroke":"independent"}}}],"bounds":"flush","spacing":435.5,"resolve":{"scale":{"color":"independent","stroke":"independent"}}}
